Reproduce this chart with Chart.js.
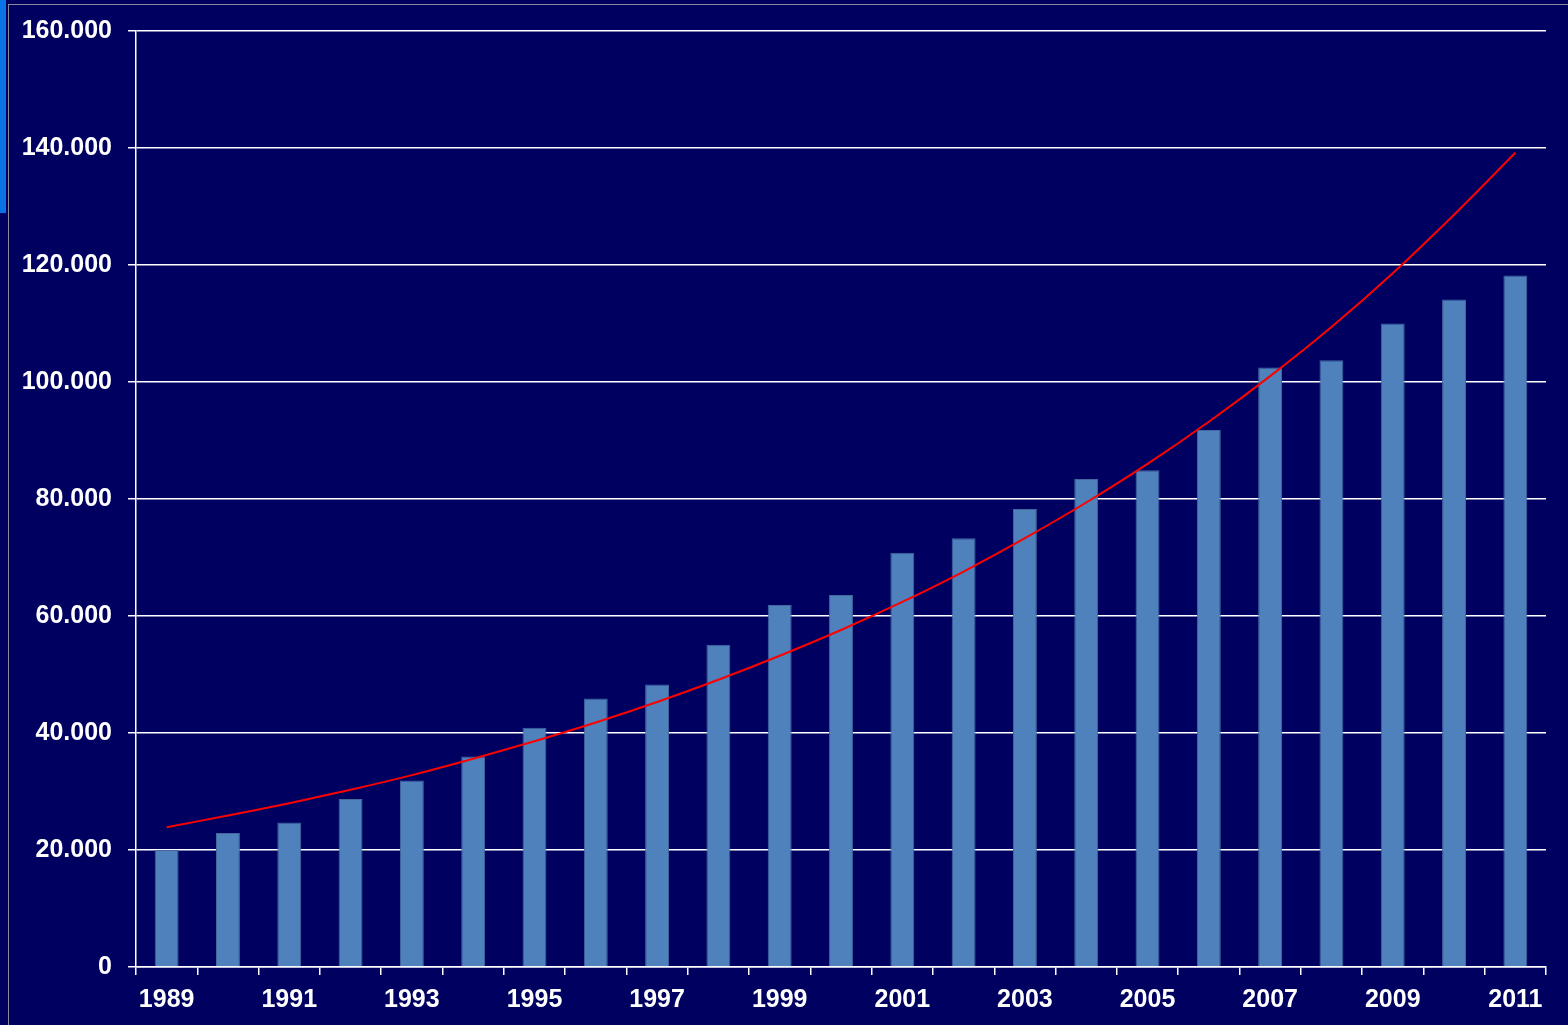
<!DOCTYPE html>
<html>
<head>
<meta charset="utf-8">
<script src="https://cdn.jsdelivr.net/npm/chart.js@4"></script>
<style>
  html, body { margin: 0; padding: 0; background: #000060; overflow: hidden; }
  #wrap { position: absolute; left: 0; top: 0; width: 1568px; height: 1025px; }
  #strip { position: absolute; left: 0; top: 0; width: 6px; height: 213px; background: #0a74e6; }
  #frameTop { position: absolute; left: 8px; top: 4px; right: 0; height: 1px; background: #8a8a9a; }
  #frameLeft { position: absolute; left: 8px; top: 4px; bottom: 0; width: 1px; background: #8a8a9a; }
</style>
</head>
<body>
<div id="wrap"><canvas id="chart"></canvas></div>
<div id="strip"></div>
<div id="frameTop"></div>
<div id="frameLeft"></div>
<script>
// years on the x axis
const years = ['1989','1990','1991','1992','1993','1994','1995','1996','1997','1998','1999','2000',
               '2001','2002','2003','2004','2005','2006','2007','2008','2009','2010','2011'];

// bar values
const values = [20000, 22900, 24700, 28700, 31900, 36000, 40900, 45900, 48300, 55100, 61900, 63600,
                70800, 73300, 78300, 83400, 84900, 91800, 102500, 103700, 110000, 114100, 118200];

// red trend line at each year
const trend = [23900, 25900, 28000, 30300, 32800, 35600, 38600, 41800, 45300, 49100, 53200, 57600,
               62400, 67600, 73300, 79400, 86000, 93200, 101000, 109400, 118600, 128600, 139200];

const yMax = 160000;
const yStep = 20000;

function fmt(v) {
    return String(v).replace(/\B(?=(\d{3})+(?!\d))/g, '.');
}

const ctx = document.getElementById('chart').getContext('2d');
const font = { family: '"Liberation Sans", Arial, sans-serif', size: 25, weight: 'bold' };

new Chart(ctx, {
    data: {
        labels: years,
        datasets: [
            {
                type: 'line',
                data: trend,
                borderColor: '#ff0000',
                borderWidth: 2,
                pointRadius: 0,
                tension: 0.3,
                order: 0
            },
            {
                type: 'bar',
                data: values,
                backgroundColor: '#4f81bd',
                borderColor: '#41699e',
                borderWidth: 1,
                categoryPercentage: 1,
                barPercentage: 0.39,
                order: 1
            }
        ]
    },
    options: {
        responsive: true,
        maintainAspectRatio: false,
        animation: false,
        layout: { padding: { top: 29, right: 22, left: 0, bottom: 0 } },
        plugins: { legend: { display: false }, tooltip: { enabled: false } },
        scales: {
            x: {
                offset: true,
                grid: { offset: true, drawOnChartArea: false, drawTicks: true, tickLength: 8, color: '#ffffff', lineWidth: 1.5 },
                border: { display: true, color: '#ffffff', width: 1.5 },
                ticks: {
                    color: '#ffffff',
                    font: font,
                    autoSkip: false,
                    maxRotation: 0,
                    padding: 10,
                    callback: function (v, i) { return i % 2 === 0 ? years[i] : ''; }
                },
                afterFit: function (axis) { axis.height = 58; }
            },
            y: {
                min: 0,
                max: yMax,
                grid: { color: '#ffffff', lineWidth: 1.5, tickLength: 8, drawTicks: true },
                border: { display: true, color: '#ffffff', width: 1.5 },
                ticks: {
                    stepSize: yStep,
                    color: '#ffffff',
                    font: font,
                    padding: 16,
                    callback: function (v) { return fmt(v); }
                },
                afterFit: function (axis) { axis.width = 136; }
            }
        }
    }
});
</script>
</body>
</html>
